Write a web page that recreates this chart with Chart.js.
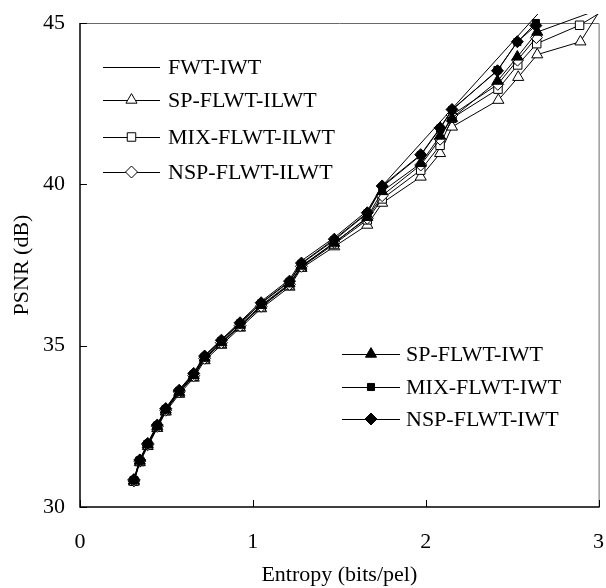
<!DOCTYPE html>
<html><head><meta charset="utf-8">
<script src="https://cdn.jsdelivr.net/npm/chart.js@4/dist/chart.umd.min.js"></script>
<style>html,body{margin:0;padding:0;background:#fff}#wrap{width:606px;height:588px;position:relative}</style>
</head><body><div id="wrap"><canvas id="c" width="606" height="588"></canvas></div>
<script>
// ---- data ----
const xTickValues = [0, 1, 2, 3];
const yTickValues = [30, 35, 40, 45];
const xTitle = 'Entropy (bits/pel)';
const yTitle = 'PSNR (dB)';

const labelFWT = 'FWT-IWT';
const labelSPL = 'SP-FLWT-ILWT';
const labelMIXL = 'MIX-FLWT-ILWT';
const labelNSPL = 'NSP-FLWT-ILWT';
const labelSP = 'SP-FLWT-IWT';
const labelMIX = 'MIX-FLWT-IWT';
const labelNSP = 'NSP-FLWT-IWT';

const xFWT = [0.312,0.346,0.392,0.447,0.496,0.574,0.658,0.721,0.818,0.926,1.048,1.212,1.281,1.471,1.662,1.748,2.77];
const yFWT = [30.86,31.47,31.98,32.56,33.07,33.64,34.16,34.70,35.19,35.74,36.37,37.05,37.63,38.35,39.18,39.95,46.0];

const xSPL = [0.312,0.346,0.392,0.447,0.496,0.574,0.658,0.721,0.818,0.926,1.048,1.212,1.281,1.471,1.662,1.748,1.971,2.083,2.152,2.420,2.535,2.645,2.895,3.05];
const ySPL = [30.78,31.38,31.88,32.44,32.95,33.50,34.00,34.54,35.02,35.55,36.15,36.82,37.40,38.07,38.74,39.42,40.23,40.96,41.78,42.61,43.32,44.02,44.42,45.75];

const xMIXL = [0.312,0.346,0.392,0.447,0.496,0.574,0.658,0.721,0.818,0.926,1.048,1.212,1.281,1.471,1.662,1.748,1.971,2.083,2.152,2.418,2.532,2.642,2.890,3.05];
const yMIXL = [30.80,31.41,31.92,32.48,32.99,33.55,34.05,34.59,35.07,35.60,36.20,36.88,37.44,38.15,38.90,39.55,40.44,41.21,42.05,42.95,43.70,44.36,44.93,45.45];

const xNSPL = [0.312,0.346,0.392,0.447,0.496,0.574,0.658,0.721,0.818,0.926,1.048,1.212,1.281,1.471,1.662,1.748,1.971,2.083,2.152,2.417,2.531,2.640];
const yNSPL = [30.81,31.42,31.93,32.50,33.00,33.57,34.07,34.61,35.09,35.62,36.22,36.90,37.46,38.20,38.95,39.65,40.60,41.40,42.15,43.10,43.85,44.55];

const xSP = [0.312,0.346,0.392,0.447,0.496,0.574,0.658,0.721,0.818,0.926,1.048,1.212,1.281,1.471,1.662,1.748,1.971,2.083,2.152,2.415,2.530,2.645,3.20];
const ySP = [30.82,31.43,31.94,32.50,33.01,33.56,34.08,34.62,35.10,35.64,36.25,36.92,37.47,38.18,38.98,39.78,40.65,41.50,42.05,43.20,43.95,44.72,45.80];

const xMIX = [0.312,0.346,0.392,0.447,0.496,0.574,0.658,0.721,0.818,0.926,1.048,1.212,1.281,1.471,1.662,1.748,1.971,2.083,2.152,2.415,2.530,2.637];
const yMIX = [30.84,31.45,31.96,32.53,33.04,33.60,34.12,34.66,35.15,35.69,36.31,36.98,37.54,38.27,39.10,39.92,40.90,41.73,42.30,43.54,44.41,45.00];

const xNSP = [0.312,0.346,0.392,0.447,0.496,0.574,0.658,0.721,0.818,0.926,1.048,1.212,1.281,1.471,1.662,1.748,1.971,2.083,2.152,2.415,2.530,2.637];
const yNSP = [30.85,31.46,31.97,32.54,33.05,33.62,34.14,34.68,35.17,35.71,36.33,37.00,37.56,38.30,39.12,39.95,40.92,41.75,42.32,43.52,44.42,44.92];

const pts = (xs, ys) => xs.map((x, i) => ({x, y: ys[i]}));

const FONT = '"Liberation Serif", "Times New Roman", serif';
const clipTop = {left: 0, top: 9, right: 0, bottom: 0};

function ds(label, xs, ys, style, radius, filled, order) {
  return {
    label, data: pts(xs, ys), showLine: true,
    borderColor: '#000', borderWidth: 1,
    pointStyle: style || 'circle',
    pointRadius: style ? radius : 0,
    pointHoverRadius: style ? radius : 0,
    pointBackgroundColor: filled ? '#000' : '#fff',
    pointBorderColor: '#000', pointBorderWidth: 1,
    clip: clipTop, order
  };
}

const datasets = [
  ds(labelFWT, xFWT, yFWT, null, 0, false, 7),
  ds(labelSPL, xSPL, ySPL, 'triangle', 6.4, false, 6),
  ds(labelMIXL, xMIXL, yMIXL, 'rect', 6, false, 5),
  ds(labelNSPL, xNSPL, yNSPL, 'rectRot', 6, false, 4),
  ds(labelSP, xSP, ySP, 'triangle', 6.4, true, 3),
  ds(labelMIX, xMIX, yMIX, 'rect', 5, true, 2),
  ds(labelNSP, xNSP, yNSP, 'rectRot', 6, true, 1)
];

const legendGroups = [
  {lineX0: 103, lineX1: 160, textX: 168, items: [[labelFWT, 67], [labelSPL, 100], [labelMIXL, 137], [labelNSPL, 172]]},
  {lineX0: 342, lineX1: 400, textX: 406, items: [[labelSP, 354], [labelMIX, 387], [labelNSP, 419]]}
];

function drawMarker(ctx, style, r, x, y, filled) {
  if (Chart.helpers && Chart.helpers.drawPoint) {
    ctx.fillStyle = filled ? '#000' : '#fff';
    ctx.strokeStyle = '#000';
    ctx.lineWidth = 1;
    Chart.helpers.drawPoint(ctx, {pointStyle: style, radius: r, rotation: 0, borderWidth: 1}, x, y);
  }
}

const framePlugin = {
  id: 'frame',
  beforeDatasetsDraw(chart) {
    const {ctx, chartArea: a, scales: {x, y}} = chart;
    ctx.save();
    ctx.strokeStyle = '#6a6a6a'; ctx.lineWidth = 1;
    ctx.beginPath();
    ctx.moveTo(a.left, a.top + 0.5); ctx.lineTo(a.right + 0.5, a.top + 0.5); ctx.lineTo(a.right + 0.5, a.bottom);
    ctx.stroke();
    ctx.strokeStyle = '#000'; ctx.lineWidth = 1.5;
    ctx.beginPath();
    ctx.moveTo(a.left, a.top); ctx.lineTo(a.left, a.bottom); ctx.lineTo(a.right + 1, a.bottom);
    ctx.stroke();
    ctx.lineWidth = 1;
    x.ticks.forEach(t => {
      const px = Math.round(x.getPixelForValue(t.value)) + 0.5;
      ctx.beginPath(); ctx.moveTo(px, a.bottom); ctx.lineTo(px, a.bottom - 7); ctx.stroke();
    });
    y.ticks.forEach(t => {
      const py = Math.round(y.getPixelForValue(t.value)) + 0.5;
      ctx.beginPath(); ctx.moveTo(a.left, py); ctx.lineTo(a.left + 7, py); ctx.stroke();
    });
    ctx.restore();
  },
  afterDraw(chart) {
    const ctx = chart.ctx;
    ctx.save();
    ctx.font = '22px ' + FONT;
    ctx.textBaseline = 'middle';
    ctx.textAlign = 'left';
    legendGroups.forEach(g => {
      g.items.forEach(([label, yy]) => {
        const d = chart.data.datasets.find(s => s.label === label);
        ctx.strokeStyle = '#000'; ctx.lineWidth = 1;
        ctx.beginPath(); ctx.moveTo(g.lineX0, yy + 0.5); ctx.lineTo(g.lineX1, yy + 0.5); ctx.stroke();
        if (d.pointRadius > 0) {
          drawMarker(ctx, d.pointStyle, d.pointRadius, (g.lineX0 + g.lineX1) / 2, yy, d.pointBackgroundColor === '#000');
        }
        ctx.fillStyle = '#000';
        ctx.fillText(label, g.textX, yy + 1);
      });
    });
    ctx.restore();
  }
};

new Chart(document.getElementById('c'), {
  type: 'scatter',
  data: {datasets},
  options: {
    responsive: false, animation: false, devicePixelRatio: 1,
    layout: {padding: {top: 23, right: 6, left: 0, bottom: 0}},
    plugins: {legend: {display: false}, tooltip: {enabled: false}},
    scales: {
      x: {
        type: 'linear', min: 0, max: 3,
        afterBuildTicks: s => { s.ticks = xTickValues.map(v => ({value: v})); },
        ticks: {font: {family: FONT, size: 22}, color: '#000', padding: 22, maxRotation: 0},
        grid: {display: false, drawTicks: false},
        border: {display: false},
        title: {display: true, text: xTitle, font: {family: FONT, size: 22}, color: '#000', padding: {top: 0, bottom: 0}},
        afterFit: s => { s.height = 81; s.paddingLeft = 0; s.paddingRight = 0; }
      },
      y: {
        type: 'linear', min: 30, max: 45,
        afterBuildTicks: s => { s.ticks = yTickValues.map(v => ({value: v})); },
        ticks: {font: {family: FONT, size: 22}, color: '#000', padding: 15},
        grid: {display: false, drawTicks: false},
        border: {display: false},
        title: {display: true, text: yTitle, font: {family: FONT, size: 22}, color: '#000', padding: {top: 9, bottom: 0}},
        afterFit: s => { s.width = 80; s.paddingTop = 0; s.paddingBottom = 0; }
      }
    }
  },
  plugins: [framePlugin]
});
</script>
</body></html>
